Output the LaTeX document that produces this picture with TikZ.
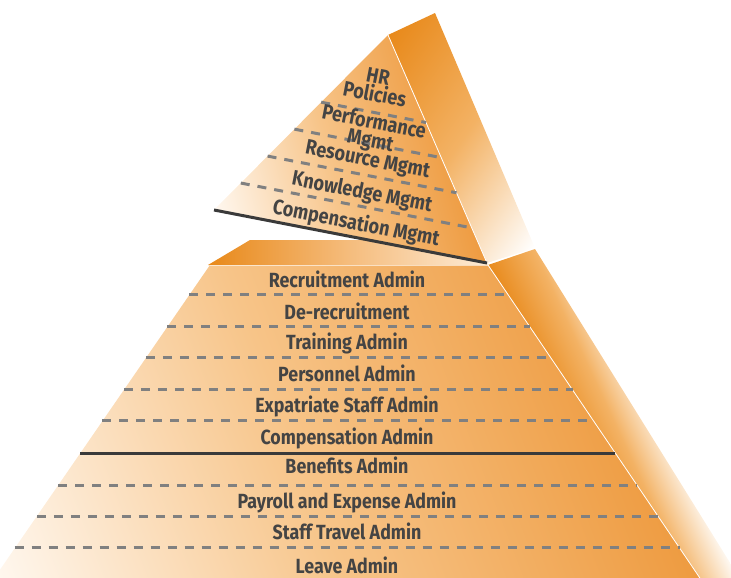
\documentclass[tikz,border=0pt]{standalone}
\usepackage{fontspec}
\usetikzlibrary{calc}
\newfontfamily\lowfont[FakeStretch=0.87]{Fira Sans}
\newfontfamily\upfont[FakeStretch=0.86]{Fira Sans}
\definecolor{txt}{HTML}{444444}
\definecolor{dashc}{HTML}{808080}
\definecolor{solidc}{HTML}{3A3A3A}
\definecolor{ordark}{HTML}{E8891A}
\definecolor{ormid}{HTML}{F3B264}
\definecolor{orfront}{HTML}{EE9B40}
\definecolor{pale}{HTML}{FFF8F0}
\definecolor{frontmid}{HTML}{F7C488}
\definecolor{topmid}{HTML}{F5BC7C}
\definecolor{toplight}{HTML}{FDEBD6}
% #1 clip path, #2 centre, #3 angle, #4 half length, #5 #6 #7 colours
\newcommand\gradface[7]{%
  \begin{scope}
    \clip #1;
    \begin{scope}[transform canvas={shift={#2},rotate=#3}]
      \shade[left color=#5, right color=#7, middle color=#6] (-#4,-700) rectangle (#4,700);
    \end{scope}
  \end{scope}}
\tikzset{
  dashline/.style={draw=dashc, line width=3pt, dash pattern=on 9pt off 8pt},
  solidline/.style={draw=solidc, line width=3pt},
  seam/.style={draw=white, line width=0.8pt},
  lowlab/.style={anchor=base, text=txt, inner sep=0pt, font=\lowfont\bfseries\fontsize{20.5}{22}\selectfont},
  uplab/.style={anchor=base, text=txt, inner sep=0pt, rotate=-11, align=center, font=\upfont\bfseries\fontsize{21}{17}\selectfont},
}
\begin{document}
\begin{tikzpicture}[x=1pt,y=-1pt]
\useasboundingbox (0,0) rectangle (731,578);
\begin{scope}
\clip (0,0) rectangle (731,578);
% corners
\coordinate (FTL) at (210,265);
\coordinate (FTR) at (488,265);
\coordinate (FBL) at (-6,578);
\coordinate (FBR) at (700,578);
\coordinate (UA) at (388,35);
\coordinate (UL) at (214,210);
\coordinate (UR) at (487,263);
\coordinate (UB) at (435,13);
\coordinate (UC) at (535,248);
% lower side face
\gradface{(488,265) -- (535,249) -- (747,590) -- (708,590) -- cycle}{(569,326)}{25}{50}{ordark}{ormid}{white}
% lower top face
\gradface{(208,265) -- (250,240) -- (540,240) -- (535,249) -- (488,265) -- cycle}{(348,252)}{0}{140}{ordark}{topmid}{toplight}
% lower front face
\gradface{(FTL) -- (FTR) -- (708,590) -- (-14,590) -- cycle}{(294,441)}{21}{330}{pale}{frontmid}{orfront}
\draw[seam] (FTR) -- (708,590);
\draw[draw=white, opacity=0.6, line width=0.8pt] (FTL) -- (FTR);
% lower lines
\foreach \f in {0.0958,0.198,0.297,0.399,0.498,0.703,0.802,0.904}
  \draw[dashline] ($(FTL)!\f!(FBL)$) -- ($(FTR)!\f!(FBR)$);
\draw[solidline] ($(FTL)!0.601!(FBL)$) -- ($(FTR)!0.601!(FBR)$);
% lower labels
\node[lowlab] (l1) at (347,287) {Recruitment Admin};
\node[lowlab] (l2) at (347,319) {De-recruitment};
\node[lowlab] (l3) at (347,349) {Training Admin};
\node[lowlab] (l4) at (347,381.5) {Personnel Admin};
\node[lowlab] (l5) at (347,412.5) {Expatriate Staff Admin};
\node[lowlab] (l6) at (347,444.5) {Compensation Admin};
\node[lowlab] (l7) at (347,473.5) {Benefits Admin};
\node[lowlab] (l8) at (347,508) {Payroll and Expense Admin};
\node[lowlab] (l9) at (347,539) {Staff Travel Admin};
\node[lowlab] (l10) at (347,573.5) {Leave Admin};
% upper side face
\gradface{(UA) -- (UB) -- (UC) -- (UR) -- cycle}{(461,141)}{-35}{121}{ordark}{ormid}{white}
% upper front face
\gradface{(UA) -- (UR) -- (UL) -- cycle}{(329,156)}{15}{125}{pale}{frontmid}{orfront}
\draw[seam] (UA) -- (UR);
% upper lines
\foreach \f in {0.384,0.538,0.692,0.846}
  \draw[dashline] ($(UA)!\f!(UL)$) -- ($(UA)!\f!(UR)$);
\draw[solidline] (UL) -- (UR);
% upper labels
\node[uplab, anchor=center] (u1) at (376.5,85.5) {HR\\Policies};
\node[uplab, anchor=center, font=\upfont\bfseries\fontsize{21}{19}\selectfont] (u2) at (372,132.5) {Performance\\Mgmt};
\node[uplab] (u3) at (366.5,166) {Resource Mgmt};
\node[uplab] (u4) at (361,198.5) {Knowledge Mgmt};
\node[uplab] (u5) at (355,230) {Compensation Mgmt};
\end{scope}
\end{tikzpicture}
\end{document}
